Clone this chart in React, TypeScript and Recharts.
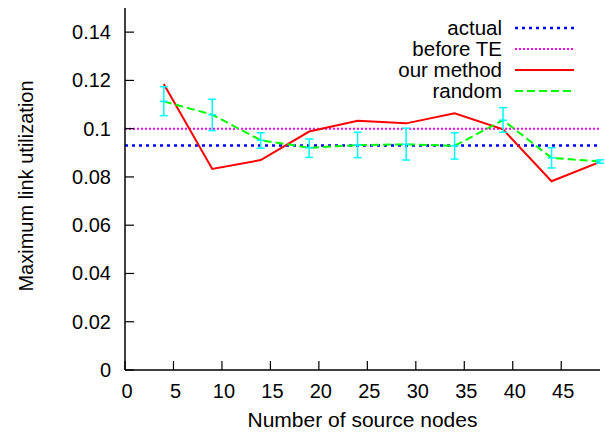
import { LineChart, Line, XAxis, YAxis, ReferenceLine, ErrorBar, Legend } from "recharts";

const FONT = '"Liberation Sans", Arial, Helvetica, sans-serif';

// number of source nodes (x)
const nodes = [4, 9, 14, 19, 24, 29, 34, 39, 44, 49];
// maximum link utilization
const ourMethod = [0.1185, 0.0833, 0.087, 0.0988, 0.1033, 0.1022, 0.1064, 0.0997, 0.0782, 0.0862];
const random = [0.1113, 0.1058, 0.0952, 0.0921, 0.0932, 0.0935, 0.0929, 0.1035, 0.0879, 0.0864];
const randomLow = [0.1054, 0.0992, 0.0919, 0.0881, 0.088, 0.087, 0.0874, 0.0985, 0.0837, 0.0857];
const randomHigh = [0.1174, 0.1122, 0.0983, 0.0957, 0.0985, 0.1002, 0.0983, 0.1087, 0.0921, 0.0871];
const actualUtil = 0.093;
const beforeTEUtil = 0.1;

const xTicks = [0, 5, 10, 15, 20, 25, 30, 35, 40, 45];
const yTicks = [0, 0.02, 0.04, 0.06, 0.08, 0.1, 0.12, 0.14];

const legendItems = [
  { label: "actual", color: "#0000ff", dash: "3 4", width: 2.5 },
  { label: "before TE", color: "#ff00ff", dash: "2 2", width: 2 },
  { label: "our method", color: "#ff0000", dash: undefined, width: 2 },
  { label: "random", color: "#00ff00", dash: "8 4", width: 2 },
];

const TICK_LEN = 9;

export default function App() {
  const data = nodes.map((n, i) => ({
    nodes: n,
    ourMethod: ourMethod[i],
    random: random[i],
    err: [random[i] - randomLow[i], randomHigh[i] - random[i]],
  }));

  const bottomTick = ({ x, y, payload }: any) => (
    <g>
      <line x1={x} x2={x} y1={y} y2={y - TICK_LEN} stroke="#000" strokeWidth={1.2} />
      <text x={x + 2} y={y + 28} textAnchor="middle" fontFamily={FONT} fontSize={20} fill="#000">
        {payload.value}
      </text>
    </g>
  );
  const topTick = ({ x, y }: any) => (
    <line x1={x} x2={x} y1={y} y2={y + TICK_LEN} stroke="#000" strokeWidth={1.2} />
  );
  const leftTick = ({ x, y, payload }: any) => (
    <g>
      <line x1={x} x2={x + TICK_LEN} y1={y} y2={y} stroke="#000" strokeWidth={1.2} />
      <text x={x - 14} y={y} dy="0.35em" textAnchor="end" fontFamily={FONT} fontSize={20} fill="#000">
        {String(payload.value)}
      </text>
    </g>
  );
  const rightTick = ({ x, y }: any) => (
    <line x1={x} x2={x - TICK_LEN} y1={y} y2={y} stroke="#000" strokeWidth={1.2} />
  );

  // cyan "+" at the centre of each error bar
  const crossDot = ({ cx, cy, index }: any) => (
    <line key={index} x1={cx - 4} x2={cx + 4} y1={cy} y2={cy} stroke="#00ffff" strokeWidth={1.5} />
  );

  const renderLegend = () => (
    <svg width={605} height={110}>
      {legendItems.map((it, i) => {
        const y = 28 + i * 21;
        return (
          <g key={it.label}>
            <text x={502} y={y} dy="0.35em" textAnchor="end" fontFamily={FONT} fontSize={20.5} fill="#000">
              {it.label}
            </text>
            <line x1={515} x2={574} y1={y} y2={y} stroke={it.color} strokeWidth={it.width} strokeDasharray={it.dash} />
          </g>
        );
      })}
    </svg>
  );

  return (
    <div style={{ position: "absolute", left: 0, top: 0, width: 605, height: 433, background: "#fff" }}>
      <LineChart width={605} height={433} data={data} margin={{ top: 8, right: 5, bottom: 0, left: 0 }}>
        <XAxis
          dataKey="nodes"
          type="number"
          domain={[0, 49]}
          ticks={xTicks}
          interval={0}
          allowDataOverflow
          height={63}
          tickSize={0}
          tickMargin={0}
          tickLine={false}
          axisLine={{ stroke: "#000", strokeWidth: 1.5 }}
          tick={bottomTick}
          label={{
            content: ({ viewBox }: any) => (
              <text
                x={(viewBox?.x ?? 125) + (viewBox?.width ?? 475) / 2}
                y={(viewBox?.y ?? 370) + 57}
                textAnchor="middle"
                fontFamily={FONT}
                fontSize={21}
                fill="#000"
              >
                Number of source nodes
              </text>
            ),
          }}
        />
        <XAxis
          xAxisId="top"
          orientation="top"
          type="number"
          domain={[0, 49]}
          ticks={xTicks}
          interval={0}
          allowDataOverflow
          height={0}
          tickSize={0}
          tickMargin={0}
          tickLine={false}
          axisLine={{ stroke: "#000", strokeWidth: 1.5 }}
          tick={topTick}
        />
        <YAxis
          type="number"
          domain={[0, 0.15]}
          ticks={yTicks}
          interval={0}
          allowDataOverflow
          width={125}
          tickSize={0}
          tickMargin={0}
          tickLine={false}
          axisLine={{ stroke: "#000", strokeWidth: 1.5 }}
          tick={leftTick}
          label={{
            content: ({ viewBox }: any) => {
              const cy = (viewBox?.y ?? 8) + (viewBox?.height ?? 362) / 2 - 3;
              return (
                <text
                  x={33}
                  y={cy}
                  transform={`rotate(-90, 33, ${cy})`}
                  textAnchor="middle"
                  fontFamily={FONT}
                  fontSize={20}
                  fill="#000"
                >
                  Maximum link utilization
                </text>
              );
            },
          }}
        />
        <YAxis
          yAxisId="right"
          orientation="right"
          type="number"
          domain={[0, 0.15]}
          ticks={yTicks}
          interval={0}
          allowDataOverflow
          width={0}
          tickSize={0}
          tickMargin={0}
          tickLine={false}
          axisLine={{ stroke: "#000", strokeWidth: 1.5 }}
          tick={rightTick}
        />
        <ReferenceLine y={actualUtil} stroke="#0000ff" strokeWidth={2.5} strokeDasharray="3 4" />
        <ReferenceLine y={beforeTEUtil} stroke="#ff00ff" strokeWidth={2} strokeDasharray="2 2" />
        <Line
          dataKey="ourMethod"
          type="linear"
          stroke="#ff0000"
          strokeWidth={2}
          dot={false}
          isAnimationActive={false}
        />
        <Line
          dataKey="random"
          type="linear"
          stroke="#00ff00"
          strokeWidth={2}
          strokeDasharray="8 4"
          dot={false}
          isAnimationActive={false}
        />
        <Line
          dataKey="random"
          type="linear"
          stroke="none"
          dot={crossDot}
          legendType="none"
          isAnimationActive={false}
        >
          <ErrorBar dataKey="err" direction="y" width={4} stroke="#00ffff" strokeWidth={1.5} />
        </Line>
        <Legend
          layout="horizontal"
          verticalAlign="middle"
          align="center"
          wrapperStyle={{ left: 0, top: 0, width: 605, height: 110 }}
          content={renderLegend}
        />
      </LineChart>
    </div>
  );
}
